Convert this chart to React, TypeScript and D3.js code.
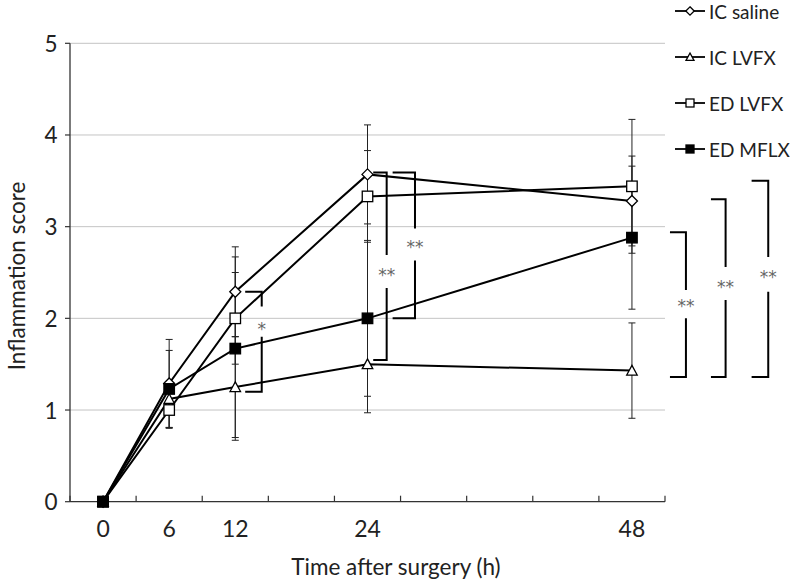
import React from "react";
import * as d3 from "d3";

const hours = [0, 6, 12, 24, 48];
const seriesNames = ["IC saline", "IC LVFX", "ED LVFX", "ED MFLX"];
const icSaline = [0, 1.29, 2.29, 3.57, 3.28];
const icSalineErr = [0, 0.48, 0.49, 0.54, 0.49];
const icLvfx = [0, 1.12, 1.25, 1.5, 1.43];
const icLvfxErr = [0, 0.15, 0.55, 0.53, 0.52];
const edLvfx = [0, 1.0, 2.0, 3.33, 3.44];
const edLvfxErr = [0, 0.2, 0.5, 0.5, 0.73];
const edMflx = [0, 1.23, 1.67, 2.0, 2.88];
const edMflxErr = [0, 0.42, 1.0, 0.85, 0.78];
const markerKinds = ["diamond", "triangle", "square", "squareFilled"];

const yTicks = [0, 1, 2, 3, 4, 5];
const xLabelTicks = [0, 6, 12, 24, 48];
const xMinorTicks = [-3, 3, 9, 15, 21, 27, 33, 39, 45, 51];

// significance brackets
const bracketX0 = [12.9, 24.52, 26.28, 51.45, 55.17, 58.86];
const bracketX1 = [14.4, 25.74, 28.31, 52.9, 56.5, 60.37];
const bracketTop = [2.29, 3.59, 3.59, 2.94, 3.3, 3.5];
const bracketBottom = [1.2, 1.545, 2.0, 1.36, 1.36, 1.36];
const bracketLabelY = [1.93, 2.52, 2.82, 2.18, 2.39, 2.5];
const bracketGapTop = [2.13, 2.69, 2.98, 2.31, 2.56, 2.67];
const bracketGapBottom = [1.8, 2.33, 2.63, 2.0, 2.2, 2.29];
const bracketLabels = ["*", "**", "**", "**", "**", "**"];

const W = 792;
const H = 583;
const FONT = "Lato, 'Open Sans', sans-serif";

function Marker({ kind, cx, cy, s }: { kind: string; cx: number; cy: number; s: number }) {
  const h = s / 2;
  if (kind === "diamond") {
    const p = `M${cx},${cy - h * 1.05}L${cx + h * 1.05},${cy}L${cx},${cy + h * 1.05}L${cx - h * 1.05},${cy}Z`;
    return <path d={p} fill="#fff" stroke="#000" strokeWidth={1.3} />;
  }
  if (kind === "triangle") {
    const p = `M${cx},${cy - h}L${cx + h},${cy + h * 0.85}L${cx - h},${cy + h * 0.85}Z`;
    return <path d={p} fill="#fff" stroke="#000" strokeWidth={1.3} />;
  }
  if (kind === "square") {
    return <rect x={cx - h} y={cy - h} width={s} height={s} fill="#fff" stroke="#000" strokeWidth={1.3} />;
  }
  return <rect x={cx - h} y={cy - h} width={s} height={s} fill="#000" stroke="#000" strokeWidth={1.3} />;
}

export default function App() {
  const x = d3.scaleLinear().domain([-3, 51]).range([70, 665]);
  const y = d3.scaleLinear().domain([0, 5]).range([501.7, 43.3]);
  const values = [icSaline, icLvfx, edLvfx, edMflx];
  const errs = [icSalineErr, icLvfxErr, edLvfxErr, edMflxErr];
  const line = d3
    .line<number>()
    .x((_, i) => x(hours[i]))
    .y((v) => y(v));

  const legendY = [11, 57, 103, 149];

  return (
    <svg
      width={W}
      height={H}
      style={{ position: "absolute", left: 0, top: 0, background: "#fff" }}
      fontFamily={FONT}
    >
      {yTicks.slice(1).map((t) => (
        <line key={t} x1={x(-3)} x2={x(51)} y1={y(t)} y2={y(t)} stroke="#c4c4c4" strokeWidth={1} />
      ))}
      <line x1={x(-3)} x2={x(-3)} y1={y(5)} y2={y(0)} stroke="#333" strokeWidth={1.3} />
      <line x1={x(-3)} x2={x(51)} y1={y(0)} y2={y(0)} stroke="#333" strokeWidth={1.3} />
      {yTicks.map((t) => (
        <g key={t}>
          <line x1={x(-3) - 5} x2={x(-3)} y1={y(t)} y2={y(t)} stroke="#333" strokeWidth={1.2} />
          <text x={57.5} y={y(t)} textAnchor="end" dominantBaseline="central" fontSize={22.5} fill="#222">
            {t}
          </text>
        </g>
      ))}
      {xMinorTicks.map((t) => (
        <line key={t} x1={x(t)} x2={x(t)} y1={y(0)} y2={y(0) - 6} stroke="#333" strokeWidth={1.2} />
      ))}
      {xLabelTicks.map((t) => (
        <text key={t} x={x(t)} y={528} textAnchor="middle" dominantBaseline="central" fontSize={23} fill="#222">
          {t}
        </text>
      ))}
      <text x={396} y={566} textAnchor="middle" dominantBaseline="central" fontSize={22.5} fill="#222">
        Time after surgery (h)
      </text>
      <text
        transform={`translate(16,276) rotate(-90)`}
        textAnchor="middle"
        dominantBaseline="central"
        fontSize={22.5}
        fill="#222"
      >
        Inflammation score
      </text>

      {values.map((vals, si) =>
        vals.map((v, i) => {
          const e = errs[si][i];
          if (!e) return null;
          const cx = x(hours[i]);
          return (
            <g key={`e${si}-${i}`} stroke="#222" strokeWidth={1}>
              <line x1={cx} x2={cx} y1={y(v + e)} y2={y(v - e)} />
              <line x1={cx - 3.5} x2={cx + 3.5} y1={y(v + e)} y2={y(v + e)} />
              <line x1={cx - 3.5} x2={cx + 3.5} y1={y(v - e)} y2={y(v - e)} />
            </g>
          );
        })
      )}

      {values.map((vals, si) => (
        <path key={`l${si}`} d={line(vals) || ""} fill="none" stroke="#000" strokeWidth={2} />
      ))}

      {values.map((vals, si) =>
        vals.map((v, i) => (
          <Marker key={`m${si}-${i}`} kind={markerKinds[si]} cx={x(hours[i])} cy={y(v)} s={10.5} />
        ))
      )}

      {bracketLabels.map((lab, i) => {
        const xa = x(bracketX0[i]);
        const xb = x(bracketX1[i]);
        const yt = y(bracketTop[i]);
        const yb = y(bracketBottom[i]);
        return (
          <g key={`b${i}`}>
            <path
              d={`M${xa},${yt}H${xb}V${y(bracketGapTop[i])}M${xb},${y(bracketGapBottom[i])}V${yb}H${xa}`}
              fill="none"
              stroke="#000"
              strokeWidth={2}
            />
            <text
              x={xb}
              y={y(bracketLabelY[i]) + 10}
              textAnchor="middle"
              fontSize={17}
              fontFamily="'DejaVu Sans', sans-serif"
              fill="#666"
            >
              {lab}
            </text>
          </g>
        );
      })}

      {seriesNames.map((name, i) => (
        <g key={`lg${i}`}>
          <line x1={675} x2={705} y1={legendY[i]} y2={legendY[i]} stroke="#000" strokeWidth={1.8} />
          <Marker kind={markerKinds[i]} cx={690} cy={legendY[i]} s={8} />
          <text x={709} y={legendY[i]} dominantBaseline="central" fontSize={19} fill="#222">
            {name}
          </text>
        </g>
      ))}
    </svg>
  );
}
